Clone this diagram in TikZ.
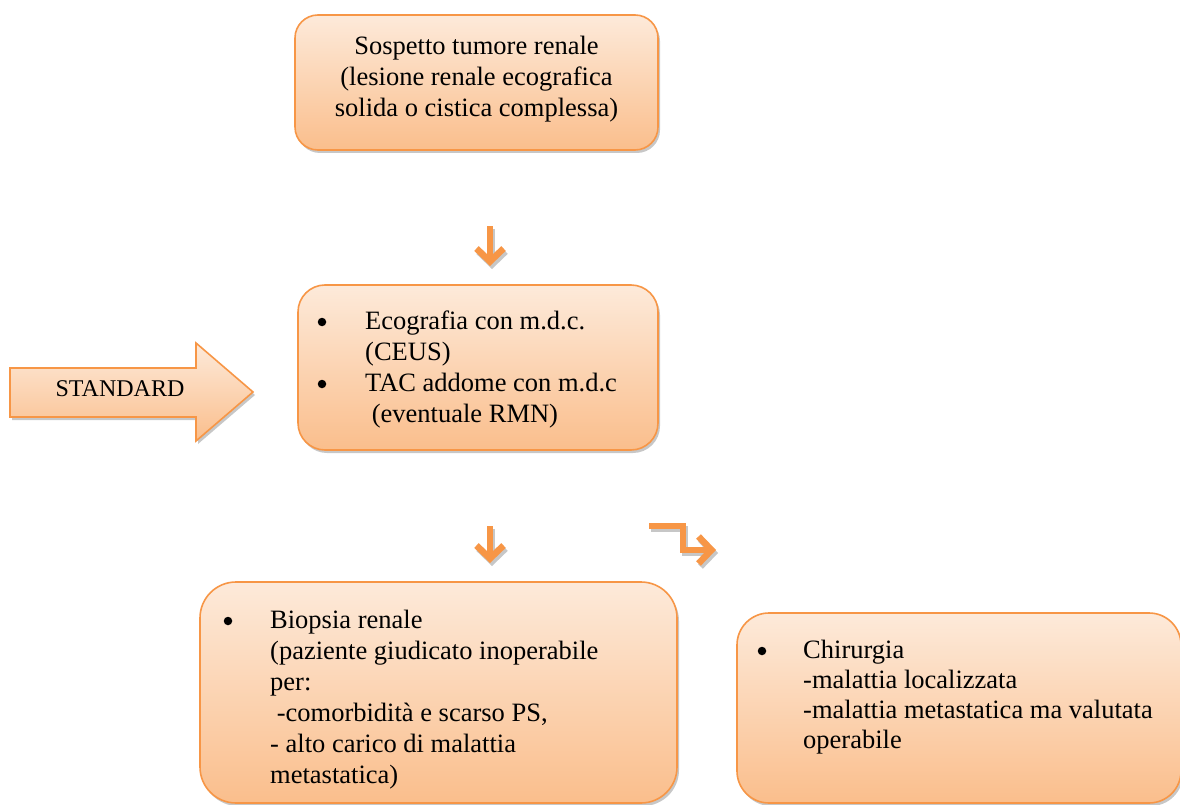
\documentclass[tikz,border=0pt]{standalone}
\usepackage{fontspec}
\setmainfont{Liberation Serif}
\usetikzlibrary{arrows.meta,shadows}
\definecolor{orgline}{RGB}{247,150,70}
\definecolor{orgtop}{RGB}{253,234,218}
\definecolor{orgbot}{RGB}{250,190,140}
\tikzset{
  box/.style={draw=orgline, line width=1.6pt, top color=orgtop, bottom color=orgbot,
    drop shadow={shadow xshift=2pt, shadow yshift=-3pt, fill=black, opacity=0.22}},
  txt/.style={font=\fontsize{26.5}{31}\selectfont, inner sep=0pt, align=left, anchor=base west},
  ctxt/.style={font=\fontsize{26.5}{31}\selectfont, inner sep=0pt, align=center, anchor=base},
  bul/.style={circle, fill=black, inner sep=0pt, minimum size=8.5pt},
  flow/.style={draw=orgline, line width=6.5pt, -{Straight Barb[length=13pt,width=27pt]}},
  flowshadow/.style={draw=black!22, line width=6.5pt, -{Straight Barb[length=13pt,width=27pt]}, transform canvas={shift={(2pt,-3pt)}}}
}
\begin{document}
\begin{tikzpicture}[x=1pt,y=-1pt]
\path[use as bounding box, fill=white] (0,0) rectangle (1180,805);

% top box
\path[box, rounded corners=23pt] (295,15) rectangle (658,150);
\node[ctxt] (t1) at (476.5,117) {Sospetto tumore renale\\(lesione renale ecografica\\solida o cistica complessa)};

% middle box
\path[box, rounded corners=27pt] (298,285) rectangle (658,450);
\node[bul] (mb1) at (322,322) {};
\node[bul] (mb2) at (322,384) {};
\node[txt] (m1) at (365,422) {Ecografia con m.d.c.\\(CEUS)\\TAC addome con m.d.c\\\ (eventuale RMN)};

% standard arrow
\path[box] (10,368) -- (196,368) -- (196,343) -- (253,392) -- (196,441) -- (196,417) -- (10,417) -- cycle;
\node[font=\fontsize{24}{28}\selectfont, inner sep=0pt, anchor=base] (std) at (120,396) {STANDARD};

% bottom-left box
\path[box, rounded corners=36pt] (200,582) rectangle (677,803);
\node[bul] (bb1) at (228,621) {};
\node[txt] (b1) at (270,783) {Biopsia renale\\(paziente giudicato inoperabile\\per:\\\ -comorbidità e scarso PS,\\- alto carico di malattia\\metastatica)};

% bottom-right box
\path[box, rounded corners=32pt] (737,613) rectangle (1181,803);
\node[bul] (cb1) at (762,651) {};
\node[txt, font=\fontsize{26.5}{30}\selectfont] (c1) at (803,748) {Chirurgia\\-malattia localizzata\\-malattia metastatica ma valutata\\operabile};

% arrows
\coordinate (a1s) at (490,226);
\coordinate (a1e) at (490,266);
\coordinate (a2s) at (490,526);
\coordinate (a2e) at (490,563);
\coordinate (a3s) at (649,526);
\coordinate (a3m) at (683,526);
\coordinate (a3n) at (683,550);
\coordinate (a3e) at (716,550);
\draw[flowshadow] (a1s) -- (a1e);
\draw[flowshadow] (a2s) -- (a2e);
\draw[flowshadow] (a3s) -- (a3m) -- (a3n) -- (a3e);
\draw[flow] (a1s) -- (a1e);
\draw[flow] (a2s) -- (a2e);
\draw[flow] (a3s) -- (a3m) -- (a3n) -- (a3e);
\end{tikzpicture}
\end{document}
